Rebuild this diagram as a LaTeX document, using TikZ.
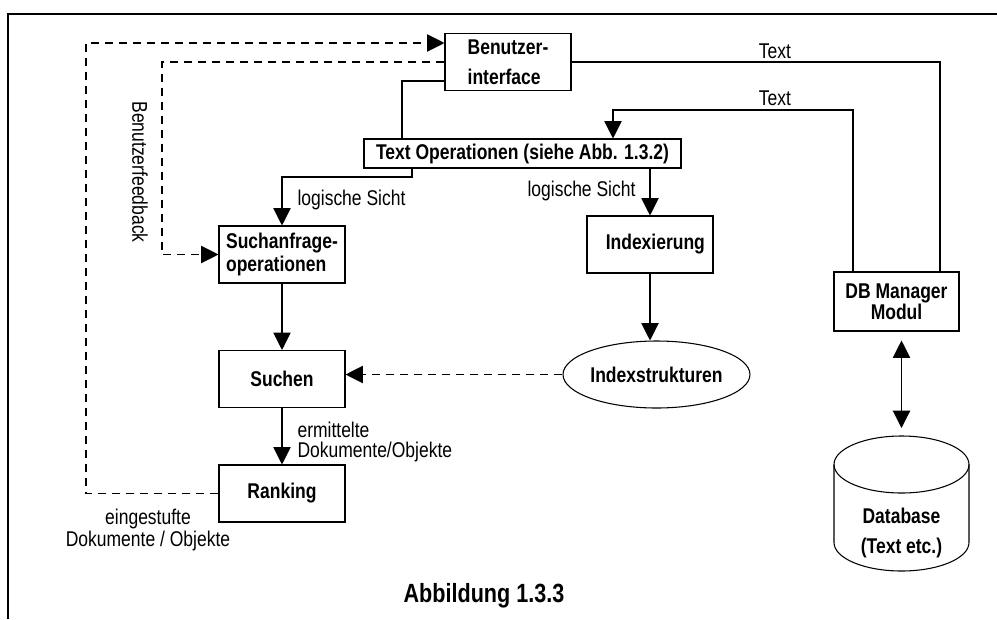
\documentclass[tikz,border=0pt]{standalone}
\usepackage{fontspec}
\setmainfont{Liberation Sans}[FakeStretch=0.82]
\usetikzlibrary{arrows.meta,shapes.geometric}

\newcommand{\fsz}[1]{\fontsize{16}{#1}\selectfont}

\tikzset{
  blk/.style={draw,line width=0.8pt,minimum width=94.5pt,minimum height=42.75pt,inner sep=0pt,align=left},
  fb/.style={dash pattern=on 6pt off 4.5pt},
  lbl/.style={inner sep=0pt}
}

\begin{document}
\begin{tikzpicture}[line cap=butt,line join=miter,>={Triangle[length=13pt,width=13pt]},x=0.75pt,y=-0.75pt,line width=0.8pt]
\useasboundingbox (0,0) rectangle (997,619);
\draw[line width=1.6pt] (8,619) -- (8,14) -- (997,14);

\node[blk,font=\fsz{22.5}\bfseries] (ui) at (508,62) {Benutzer-\\interface};
\node[blk,minimum width=237.75pt,minimum height=21.75pt,font=\fsz{17}\bfseries] (textop) at (522.5,153.5) {\raisebox{-4pt}{Text Operationen (siehe Abb. 1.3.2)}};
\node[blk,font=\fsz{17.25}\bfseries] (query) at (282,254.5) {Suchanfrage-\\operationen};
\node[blk,font=\fsz{17}\bfseries] (search) at (282,379) {Suchen};
\node[blk,font=\fsz{17}\bfseries] (rank) at (282,493.5) {Ranking};
\node[blk,font=\fsz{17}\bfseries] (index) at (650,244.5) {\hspace{8pt}Indexierung};
\node[draw,ellipse,line width=0.8pt,minimum width=137.25pt,minimum height=50.25pt,inner sep=0pt,font=\fsz{17}\bfseries] (struct) at (656.5,374.5) {Indexstrukturen};
\node[blk,minimum width=93.75pt,minimum height=44.25pt,align=center,font=\fsz{14.25}\bfseries] (db) at (896.5,301.5) {DB Manager\\Modul};
\node[lbl,align=center,font=\fsz{22.5}\bfseries] (base) at (901.5,533) {Database\\(Text etc.)};

\draw (901.5,464.5) ellipse[x radius=67.5,y radius=28.5];
\draw (834,464.5) -- (834,542.5) arc[start angle=180,end angle=0,x radius=67.5,y radius=28.5] -- (969,464.5);
\coordinate (basetop) at (901.5,436);

\coordinate (fbouter) at (86,43);
\coordinate (fbinner) at (162,62);
\coordinate (c1) at (402,81);
\coordinate (c2) at (412,177);
\coordinate (c3) at (940,62);
\coordinate (c4) at (853,110);
\coordinate (c5) at (613,110);

\draw[fb,->] (rank.west) -| (fbouter) -- ([yshift=14.25pt]ui.west);
\draw[fb,->] (ui.west) -- (fbinner) |- (query.west);
\draw ([yshift=-14.25pt]ui.west) -- (c1) -- (c1 |- textop.north);
\draw[->] (c2 |- textop.south) -- (c2) -| (query.north);
\draw[->] (textop.south -| index.north) -- (index.north);
\draw[->] (query) -- (search);
\draw[->] (search) -- (rank);
\draw[->] (index) -- (index |- struct.north);
\draw[fb,->] (struct.west) -- (struct.west -| search.east);
\draw (ui.east) -- (c3) -- (c3 |- db.north);
\draw[->] (c4 |- db.north) -- (c4) -- (c5) -- (c5 |- textop.north);
\draw[<->,shorten <=6.75pt,shorten >=6pt] (basetop |- db.south) -- (basetop);

\draw (775,59) node[lbl,anchor=south,font=\fsz{15}] {Text};
\draw (775,106) node[lbl,anchor=south,font=\fsz{15}] {Text};
\draw (297,200) node[lbl,anchor=west,font=\fsz{15}] {logische Sicht};
\draw (636,191) node[lbl,anchor=east,font=\fsz{15}] {logische Sicht};
\draw (297,442) node[lbl,anchor=west,align=left,font=\fsz{15}] {ermittelte\\Dokumente/Objekte};
\draw (148,530) node[lbl,align=center,font=\fsz{14.25}] {eingestufte\\Dokumente / Objekte};
\draw (140,172) node[lbl,rotate=-90,font=\fsz{15}] {Benutzerfeedback};
\draw (484,596) node[lbl,font=\fontsize{19.75}{21}\selectfont\bfseries] (caption) {Abbildung 1.3.3};
\end{tikzpicture}
\end{document}
